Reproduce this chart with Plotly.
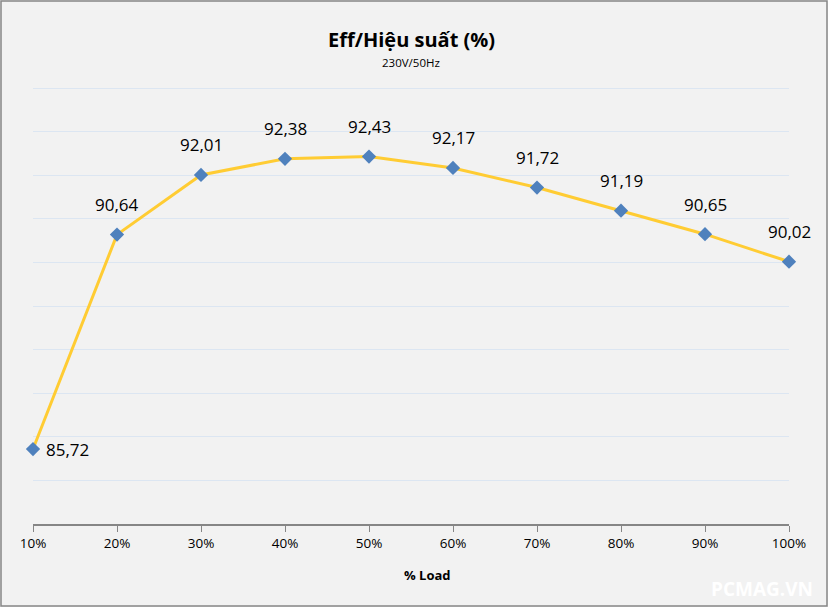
import plotly.graph_objects as go

categories = ["10%", "20%", "30%", "40%", "50%", "60%", "70%", "80%", "90%", "100%"]
efficiency = [85.72, 90.64, 92.01, 92.38, 92.43, 92.17, 91.72, 91.19, 90.65, 90.02]
labels = [f"{v:.2f}".replace(".", ",") for v in efficiency]

W, H = 828, 607
ymin, ymax = 84, 94.05
ml, mr, mb = 33, 39, 83
unit = 43.6
mt = int(round(88 - (ymax - 94) * unit))
pw, ph = W - ml - mr, H - mt - mb

font = "Open Sans, Liberation Sans, sans-serif"

xs = list(range(len(categories)))

fig = go.Figure()
fig.add_trace(go.Scatter(
    x=xs, y=efficiency,
    mode="lines+markers",
    line=dict(color="#FFCC33", width=3),
    marker=dict(symbol="diamond", size=11, color="#4F81BD"),
    cliponaxis=False,
    hoverinfo="skip",
))

def py(pix):
    return (H - pix - mb) / ph

def px(pix):
    return (pix - ml) / pw

annotations = []
for i, (x, y, t) in enumerate(zip(xs, efficiency, labels)):
    if i == 0:
        annotations.append(dict(x=x, y=y, xref="x", yref="y", text=t, showarrow=False,
                                xanchor="left", yanchor="middle", xshift=11,
                                font=dict(size=17, family=font, color="#000000")))
    else:
        annotations.append(dict(x=x, y=y, xref="x", yref="y", text=t, showarrow=False,
                                xanchor="center", yanchor="middle", yshift=30,
                                font=dict(size=17, family=font, color="#000000")))

annotations += [
    dict(text="<b>Eff/Hiệu suất (%)</b>", x=0.5, xref="paper",
         y=py(40), yref="paper", showarrow=False,
         font=dict(size=20, family=font), yanchor="middle"),
    dict(text="230V/50Hz", x=0.5, xref="paper",
         y=py(62), yref="paper", showarrow=False,
         font=dict(size=11.5, family=font), yanchor="middle"),
    dict(text="<b>% Load</b>", x=px(427), xref="paper",
         y=py(575), yref="paper", showarrow=False,
         font=dict(size=13, family=font), yanchor="middle"),
    dict(text="<b>PCMAG.VN</b>", x=px(815), xref="paper", xanchor="right",
         y=py(589), yref="paper", yanchor="middle", showarrow=False,
         font=dict(size=19, family=font, color="#FFFFFF")),
]

fig.update_layout(
    width=W, height=H,
    margin=dict(l=ml, r=mr, t=mt, b=mb),
    paper_bgcolor="#F2F2F2", plot_bgcolor="#F2F2F2",
    showlegend=False,
    font=dict(family=font, color="#000000"),
    xaxis=dict(
        tickmode="array", tickvals=xs, ticktext=categories,
        range=[0, len(categories) - 1],
        showgrid=False, zeroline=False,
        showline=True, linecolor="#868686", linewidth=1.5,
        ticks="outside", ticklen=6, tickcolor="#868686",
        tickfont=dict(size=13.5, family=font),
    ),
    yaxis=dict(
        range=[ymin, ymax], tickmode="linear", tick0=84, dtick=1, showticklabels=False,
        showgrid=True, gridcolor="#DCE6F2", gridwidth=1,
        zeroline=False, showline=False,
    ),
    annotations=annotations,
    shapes=[
        dict(type="rect", xref="paper", yref="paper",
             x0=px(1), x1=px(W - 1),
             y0=py(606), y1=py(1),
             line=dict(color="#868686", width=1.5), fillcolor="rgba(0,0,0,0)", layer="below"),
    ],
)

fig.write_html("out.html", config={"displayModeBar": False},
               post_script="document.body.style.margin='0';document.body.style.overflow='hidden';")
